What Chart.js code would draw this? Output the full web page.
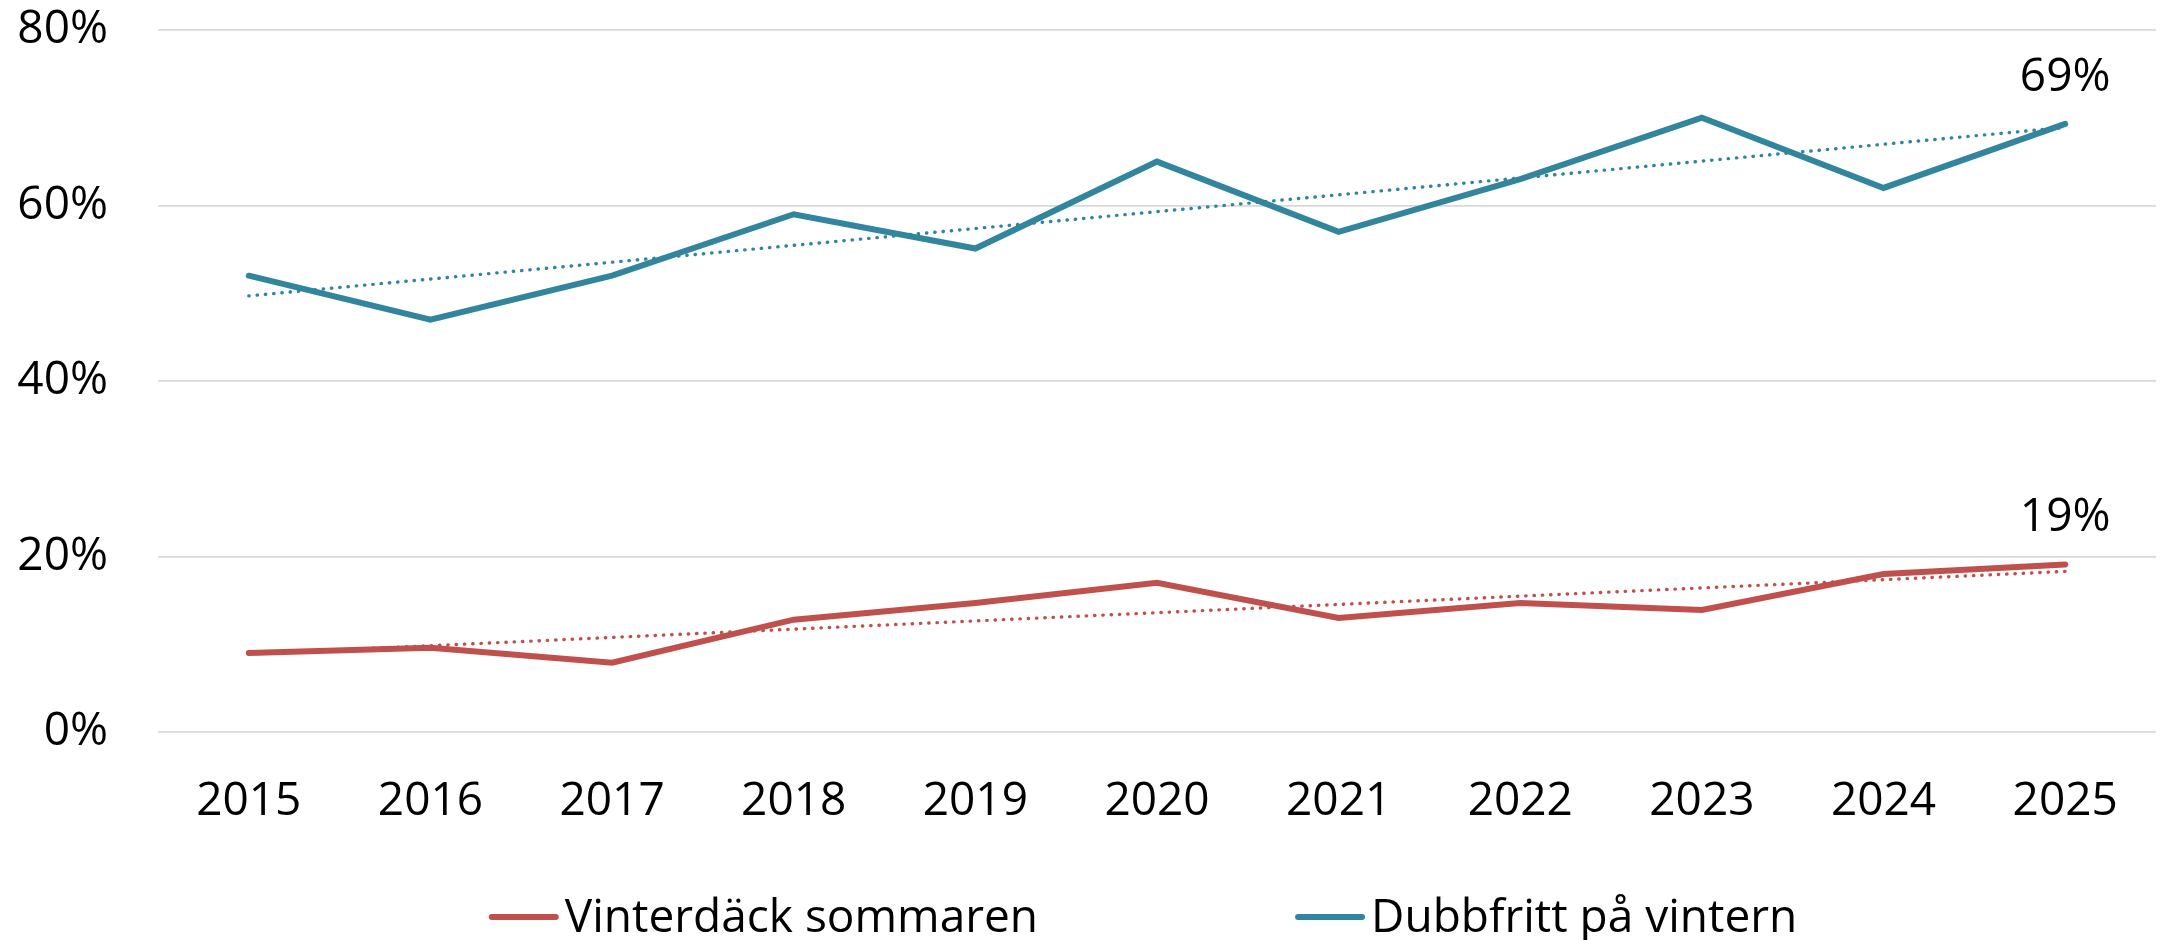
<!DOCTYPE html>
<html>
<head>
<meta charset="utf-8">
<script src="https://cdn.jsdelivr.net/npm/chart.js@4"></script>
<style>
  html, body { margin: 0; padding: 0; background: #fff; }
  #wrap { width: 2160px; height: 940px; position: relative; }
</style>
</head>
<body>
<div id="wrap"><canvas id="c" width="2160" height="940"></canvas></div>
<script>
// ---- data ----
const years = ['2015','2016','2017','2018','2019','2020','2021','2022','2023','2024','2025'];
const vinterdackSommaren = [9.0, 9.6, 7.9, 12.8, 14.7, 17.0, 13.0, 14.7, 13.9, 18.0, 19.1];
const dubbfrittVintern   = [52.0, 47.0, 52.0, 59.0, 55.1, 65.0, 57.0, 63.0, 70.0, 62.0, 69.3];
// trend lines (dotted), end points
const trendVinterdack = [8.9, null, null, null, null, null, null, null, null, null, 18.3];
const trendDubbfritt  = [49.7, null, null, null, null, null, null, null, null, null, 68.9];
const yTicks = [0, 20, 40, 60, 80];
const seriesNames = ['Vinterdäck sommaren', 'Dubbfritt på vintern'];
const endLabels = ['19%', '69%'];

const RED = '#C0504D';
const BLUE = '#31859C';
const FONT = "'Open Sans', 'Noto Sans', sans-serif";

const customLegend = {
  id: 'customLegend',
  afterDraw(chart) {
    const ctx = chart.ctx;
    const items = chart.data.datasets.filter(d => d.showInLegend);
    ctx.save();
    ctx.font = '46px ' + FONT;
    const lineLen = 70, textGap = 6, itemGap = 257;
    const widths = items.map(d => lineLen + textGap + ctx.measureText(d.label).width);
    const total = widths.reduce((a, b) => a + b, 0) + itemGap * (items.length - 1);
    const ca = chart.chartArea;
    let x = (ca.left + ca.right) / 2 - 14 - total / 2;
    const lineY = chart.height - 23;
    const baseY = chart.height - 8;
    items.forEach((d, i) => {
      ctx.strokeStyle = d.borderColor;
      ctx.lineWidth = 6;
      ctx.lineCap = 'round';
      ctx.beginPath();
      ctx.moveTo(x + 3, lineY);
      ctx.lineTo(x + lineLen - 3, lineY);
      ctx.stroke();
      ctx.fillStyle = '#000';
      ctx.textBaseline = 'alphabetic';
      ctx.textAlign = 'left';
      ctx.fillText(d.label, x + lineLen + textGap, baseY);
      x += widths[i] + itemGap;
    });
    ctx.restore();
  }
};

const endLabelPlugin = {
  id: 'endLabel',
  afterDatasetsDraw(chart) {
    const ctx = chart.ctx;
    ctx.save();
    ctx.font = '46px ' + FONT;
    ctx.fillStyle = '#000';
    ctx.textAlign = 'center';
    ctx.textBaseline = 'alphabetic';
    chart.data.datasets.forEach((d, i) => {
      if (!d.endLabel) return;
      const meta = chart.getDatasetMeta(i);
      const pt = meta.data[meta.data.length - 1];
      ctx.fillText(d.endLabel, pt.x, pt.y - 33);
    });
    ctx.restore();
  }
};

new Chart(document.getElementById('c'), {
  type: 'line',
  data: {
    labels: years,
    datasets: [
      { label: 'trend ' + seriesNames[0], data: trendVinterdack, borderColor: RED, borderWidth: 3.4,
        borderDash: [0.4, 7.9], borderCapStyle: 'round', spanGaps: true, pointRadius: 0, fill: false, tension: 0 },
      { label: 'trend ' + seriesNames[1], data: trendDubbfritt, borderColor: BLUE, borderWidth: 3.4,
        borderDash: [0.4, 7.9], borderCapStyle: 'round', spanGaps: true, pointRadius: 0, fill: false, tension: 0 },
      { label: seriesNames[0], data: vinterdackSommaren, borderColor: RED, backgroundColor: RED,
        borderWidth: 6, pointRadius: 0, fill: false, tension: 0, borderCapStyle: 'round',
        showInLegend: true, endLabel: endLabels[0] },
      { label: seriesNames[1], data: dubbfrittVintern, borderColor: BLUE, backgroundColor: BLUE,
        borderWidth: 6, pointRadius: 0, fill: false, tension: 0, borderCapStyle: 'round',
        showInLegend: true, endLabel: endLabels[1] }
    ]
  },
  options: {
    responsive: false,
    animation: false,
    devicePixelRatio: 1,
    layout: { padding: { left: 17, right: 4, top: 30, bottom: 119 } },
    plugins: {
      legend: { display: false },
      tooltip: { enabled: false },
      title: { display: false }
    },
    scales: {
      x: {
        offset: true,
        grid: { display: false },
        border: { display: false },
        ticks: { color: '#000', font: { family: FONT, size: 46 }, padding: 34, maxRotation: 0, autoSkip: false },
        afterFit: (s) => { s.paddingLeft = 0; s.paddingRight = 0; s.height = 89; }
      },
      y: {
        min: yTicks[0],
        max: yTicks[yTicks.length - 1],
        afterBuildTicks: (scale) => { scale.ticks = yTicks.map(v => ({ value: v })); },
        grid: { color: '#D9D9D9', lineWidth: 1.8, drawTicks: false },
        border: { display: false },
        ticks: { color: '#000', font: { family: FONT, size: 46 }, padding: 50,
                 callback: (v) => v + '%' },
        afterFit: (s) => { s.paddingTop = 0; s.paddingBottom = 0; s.width = 141; }
      }
    }
  },
  plugins: [customLegend, endLabelPlugin]
});
</script>
</body>
</html>
